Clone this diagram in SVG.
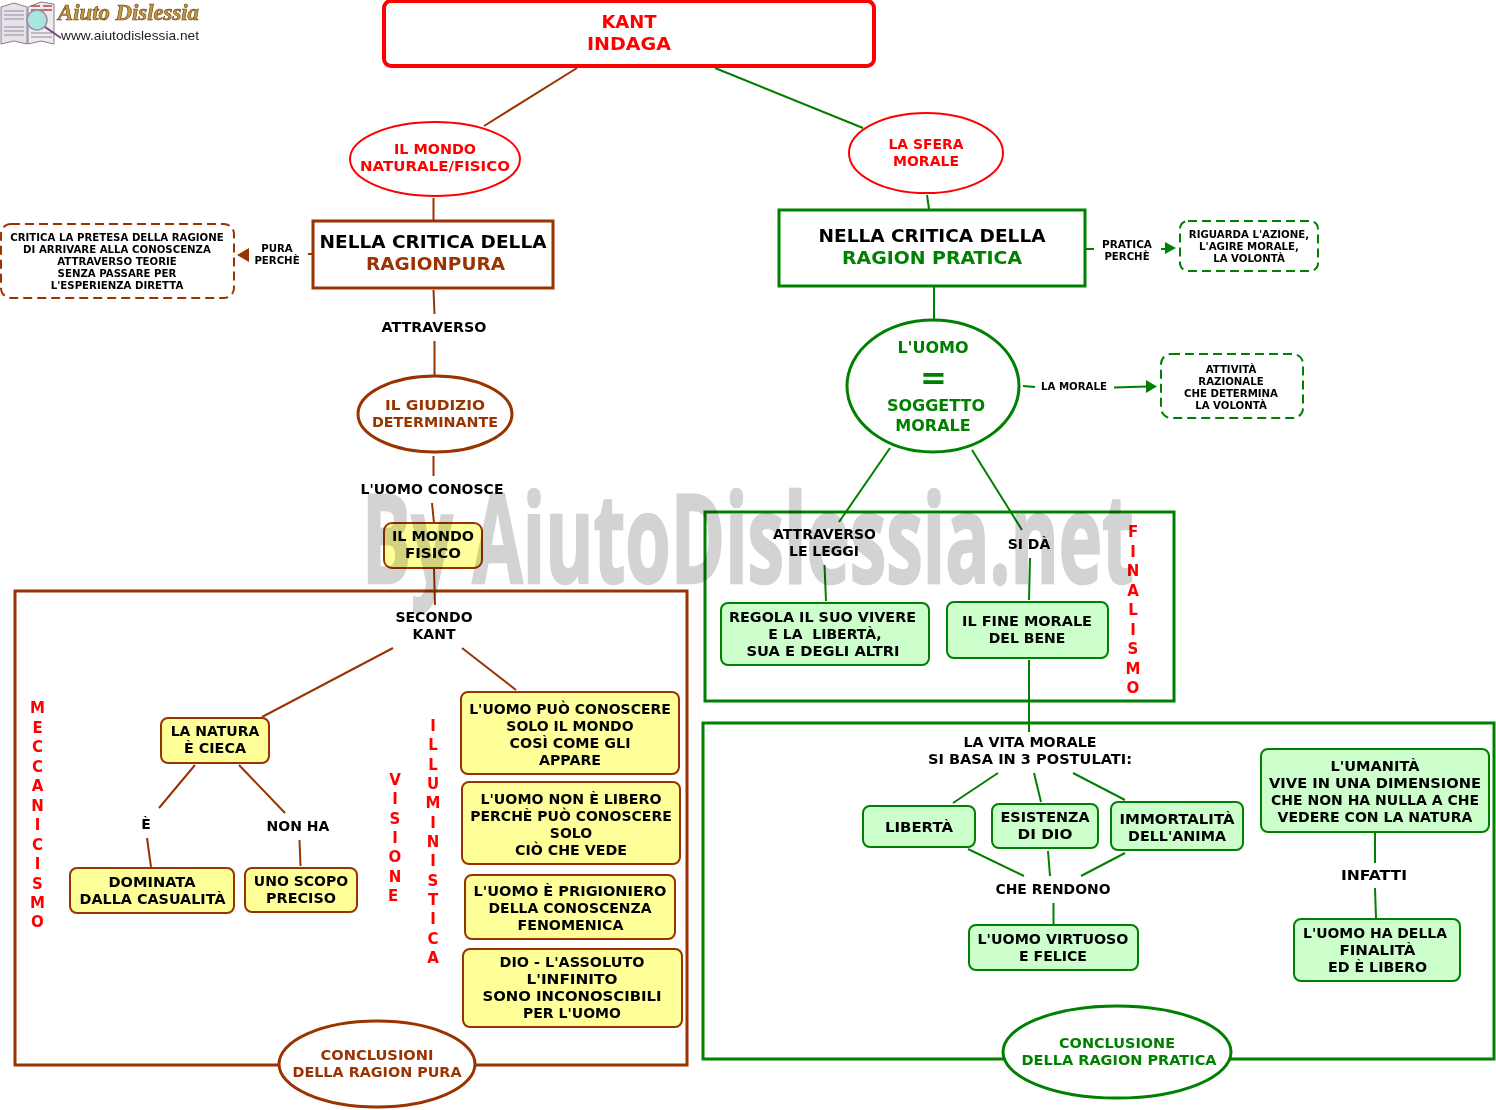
<svg xmlns="http://www.w3.org/2000/svg" width="1496" height="1110" viewBox="0 0 1496 1110">
<style>
text{font-family:"DejaVu Sans",Verdana,sans-serif;font-weight:bold;text-anchor:middle;fill:#000}
.t15{font-size:15px}.t14{font-size:14px}.t11{font-size:10.2px}.t20{font-size:18.5px}.t16{font-size:16px}.t18{font-size:18px}
.r{fill:#f00}.b{fill:#993300}.g{fill:#008000}
.lb{stroke:#993300;stroke-width:2;fill:none}
.lg{stroke:#008000;stroke-width:2;fill:none}
.wb{fill:#fff;stroke:#993300;stroke-width:3}
.wg{fill:#fff;stroke:#008000;stroke-width:3}
.y{fill:#ffff99;stroke:#993300;stroke-width:2}
.lgn{fill:#ccffcc;stroke:#008000;stroke-width:2}
.db{fill:#fff;stroke:#993300;stroke-width:2;stroke-dasharray:9 5}
.dg{fill:#fff;stroke:#008000;stroke-width:2;stroke-dasharray:9 5}
</style>
<rect width="1496" height="1110" fill="#fff"/>
<g id="logo">
<path d="M1 7 L14 3 L27 7 L27 44 L14 41 L1 44Z" fill="#e8e2ea" stroke="#8a7a90"/>
<path d="M28 7 L41 2 L54 4 L54 44 L41 41 L28 44Z" fill="#f0eaf0" stroke="#8a7a90"/>
<path d="M4 11H24M4 15H24M4 19H24M4 27H24M4 31H24M4 35H24" stroke="#b0a8b4" stroke-width="1.5"/>
<path d="M31 6H40M43 6H52M31 10H52" stroke="#c04040" stroke-width="1.5"/>
<path d="M31 33H52M31 37H52" stroke="#b0a8b4" stroke-width="1.5"/>
<circle cx="37" cy="20" r="10" fill="#a8e4e0" stroke="#9a90a0" stroke-width="1.5"/>
<path d="M45 27 L61 38" stroke="#6a4a80" stroke-width="2"/>
<text x="128.5" y="20" textLength="141" lengthAdjust="spacingAndGlyphs" style="font-family:'Liberation Serif',serif;font-size:23px;font-style:italic;fill:#c8963c;stroke:#5a3c10;stroke-width:.6">Aiuto Dislessia</text>
<text x="130" y="40" textLength="138" lengthAdjust="spacingAndGlyphs" style="font-family:'Liberation Sans',sans-serif;font-size:13.5px;font-weight:normal;fill:#222">www.aiutodislessia.net</text>
</g>
<g id="frames">
<rect x="15" y="591" width="672" height="474" fill="none" stroke="#993300" stroke-width="3"/>
<rect x="705" y="512" width="469" height="189" fill="none" stroke="#008000" stroke-width="3"/>
<rect x="703" y="723" width="791" height="336" fill="none" stroke="#008000" stroke-width="3"/>
</g>
<g id="connectors">
<path class="lb" d="M577 68L484 126M433.500 198V220M433.500 290L434.500 314M434.500 341V375M433.500 456V476M432 503L434 523M434 568L435 605M393 648L262 717M462 648L516 690M195 765L159 808M239 765L285 813M147 838L151 867M299.500 840L300.500 866M308 254H312"/>
<path class="lg" d="M715 68L863 128M927 195L929 209M934 286V319M1086 249H1094M1161 249H1166M1023 386L1035 387M1114 387.500L1147 386.500M890 448L839 522M972 450L1022 530M824.500 565L826 601M1030 558L1029 600M1029 660V732M953 803L998 773M1034 773L1041 802M1073 773L1125 800M968 849L1024 876M1048 851L1050 876M1125 853L1081 876M1053.500 903V925M1375 833V863M1375 888L1376 918"/>
<path fill="#993300" d="M237 255L249 248V262Z"/>
<path fill="#008000" d="M1176 248L1165 242V254ZM1157 386.500L1146 380V393Z"/>
</g>
<g id="kant"><rect x="384" y="1" width="490" height="65" rx="7" fill="#fff" stroke="#f00" stroke-width="4"/><text class="t18 r" x="629" y="28">KANT</text><text class="t18 r" x="629" y="50" textLength="84" lengthAdjust="spacingAndGlyphs">INDAGA</text></g>
<g id="mondo-naturale"><ellipse cx="435" cy="159" rx="85" ry="37" fill="#fff" stroke="#f00" stroke-width="2"/><text class="t14 r" x="435" y="154" textLength="82" lengthAdjust="spacingAndGlyphs">IL MONDO</text><text class="t14 r" x="435" y="171" textLength="150" lengthAdjust="spacingAndGlyphs">NATURALE/FISICO</text></g>
<g id="sfera-morale"><ellipse cx="926" cy="153" rx="77" ry="40" fill="#fff" stroke="#f00" stroke-width="2"/><text class="t14 r" x="926" y="149" textLength="75" lengthAdjust="spacingAndGlyphs">LA SFERA</text><text class="t14 r" x="926" y="166" textLength="66" lengthAdjust="spacingAndGlyphs">MORALE</text></g>
<g id="critica-pura"><rect x="313" y="221" width="240" height="67" class="wb"/><text class="t20" x="433" y="248" textLength="227" lengthAdjust="spacingAndGlyphs">NELLA CRITICA DELLA</text><text class="t20 b" x="435.500" y="270" textLength="139" lengthAdjust="spacingAndGlyphs">RAGIONPURA</text></g>
<g id="critica-pratica"><rect x="779" y="210" width="306" height="76" class="wg"/><text class="t20" x="932" y="242" textLength="227" lengthAdjust="spacingAndGlyphs">NELLA CRITICA DELLA</text><text class="t20 g" x="932" y="264" textLength="180" lengthAdjust="spacingAndGlyphs">RAGION PRATICA</text></g>
<g id="critica-pretesa"><rect x="1" y="224" width="233" height="74" rx="10" class="db"/><text class="t11" x="117" y="241">CRITICA LA PRETESA DELLA RAGIONE</text><text class="t11" x="117" y="253">DI ARRIVARE ALLA CONOSCENZA</text><text class="t11" x="117" y="265">ATTRAVERSO TEORIE</text><text class="t11" x="117" y="277">SENZA PASSARE PER</text><text class="t11" x="117" y="289">L'ESPERIENZA DIRETTA</text></g>
<g id="l-pura"><text class="t11" x="277" y="252">PURA</text><text class="t11" x="277" y="264">PERCHÈ</text></g>
<g id="l-pratica"><text class="t11" x="1127" y="248" textLength="50" lengthAdjust="spacingAndGlyphs">PRATICA</text><text class="t11" x="1127" y="260">PERCHÈ</text></g>
<g id="riguarda"><rect x="1180" y="221" width="138" height="50" rx="8" class="dg"/><text class="t11" x="1249" y="238">RIGUARDA L'AZIONE,</text><text class="t11" x="1249" y="250">L'AGIRE MORALE,</text><text class="t11" x="1249" y="262">LA VOLONTÀ</text></g>
<g id="l-attraverso"><text class="t14" x="434" y="332" textLength="105" lengthAdjust="spacingAndGlyphs">ATTRAVERSO</text></g>
<g id="giudizio"><ellipse cx="435" cy="414" rx="77" ry="38" fill="#fff" stroke="#993300" stroke-width="3"/><text class="t14 b" x="435" y="410" textLength="100" lengthAdjust="spacingAndGlyphs">IL GIUDIZIO</text><text class="t14 b" x="435" y="427" textLength="126" lengthAdjust="spacingAndGlyphs">DETERMINANTE</text></g>
<g id="uomo-soggetto"><ellipse cx="933" cy="386" rx="86" ry="66" fill="#fff" stroke="#008000" stroke-width="3"/><text class="t16 g" x="933" y="353">L'UOMO</text><text class="g" style="font-size:32px" x="933.500" y="389">=</text><text class="t16 g" x="936" y="411">SOGGETTO</text><text class="t16 g" x="933" y="431">MORALE</text></g>
<g id="l-morale"><text class="t11" x="1074" y="390">LA MORALE</text></g>
<g id="attivita"><rect x="1161" y="354" width="142" height="64" rx="10" class="dg"/><text class="t11" x="1231" y="373">ATTIVITÀ</text><text class="t11" x="1231" y="385">RAZIONALE</text><text class="t11" x="1231" y="397">CHE DETERMINA</text><text class="t11" x="1231" y="409">LA VOLONTÀ</text></g>
<g id="l-conosce"><text class="t14" x="432" y="494">L'UOMO CONOSCE</text></g>
<g id="mondo-fisico"><rect x="384" y="523" width="98" height="45" rx="8" class="y"/><text class="t14" x="433" y="541" textLength="82" lengthAdjust="spacingAndGlyphs">IL MONDO</text><text class="t14" x="433" y="558" textLength="56" lengthAdjust="spacingAndGlyphs">FISICO</text></g>
<g id="l-secondo"><text class="t14" x="434" y="622">SECONDO</text><text class="t14" x="434" y="639">KANT</text></g>
<g id="natura"><rect x="161" y="718" width="108" height="45" rx="7" class="y"/><text class="t14" x="215" y="736">LA NATURA</text><text class="t14" x="215" y="753" textLength="62" lengthAdjust="spacingAndGlyphs">È CIECA</text></g>
<g id="l-e"><text class="t14" x="146" y="829">È</text></g>
<g id="l-nonha"><text class="t14" x="298" y="831">NON HA</text></g>
<g id="dominata"><rect x="70" y="868" width="164" height="45" rx="7" class="y"/><text class="t14" x="152" y="887" textLength="87" lengthAdjust="spacingAndGlyphs">DOMINATA</text><text class="t14" x="152.500" y="904" textLength="146" lengthAdjust="spacingAndGlyphs">DALLA CASUALITÀ</text></g>
<g id="scopo"><rect x="245" y="868" width="112" height="44" rx="7" class="y"/><text class="t14" x="301" y="886">UNO SCOPO</text><text class="t14" x="301" y="903" textLength="70" lengthAdjust="spacingAndGlyphs">PRECISO</text></g>
<g id="conosce"><rect x="461" y="692" width="218" height="82" rx="7" class="y"/><text class="t14" x="570" y="714">L'UOMO PUÒ CONOSCERE</text><text class="t14" x="570" y="731">SOLO IL MONDO</text><text class="t14" x="570" y="748" textLength="121" lengthAdjust="spacingAndGlyphs">COSÌ COME GLI</text><text class="t14" x="570" y="765" textLength="62" lengthAdjust="spacingAndGlyphs">APPARE</text></g>
<g id="libero"><rect x="462" y="782" width="218" height="82" rx="7" class="y"/><text class="t14" x="571" y="804" textLength="181" lengthAdjust="spacingAndGlyphs">L'UOMO NON È LIBERO</text><text class="t14" x="571" y="821">PERCHÈ PUÒ CONOSCERE</text><text class="t14" x="571" y="838">SOLO</text><text class="t14" x="571" y="855" textLength="112" lengthAdjust="spacingAndGlyphs">CIÒ CHE VEDE</text></g>
<g id="prigioniero"><rect x="465" y="875" width="210" height="64" rx="7" class="y"/><text class="t14" x="570" y="896" textLength="193" lengthAdjust="spacingAndGlyphs">L'UOMO È PRIGIONIERO</text><text class="t14" x="570" y="913" textLength="163" lengthAdjust="spacingAndGlyphs">DELLA CONOSCENZA</text><text class="t14" x="570.500" y="930" textLength="106" lengthAdjust="spacingAndGlyphs">FENOMENICA</text></g>
<g id="dio"><rect x="463" y="949" width="219" height="78" rx="7" class="y"/><text class="t14" x="572" y="967" textLength="145" lengthAdjust="spacingAndGlyphs">DIO - L'ASSOLUTO</text><text class="t14" x="572" y="984" textLength="91" lengthAdjust="spacingAndGlyphs">L'INFINITO</text><text class="t14" x="572" y="1001" textLength="179" lengthAdjust="spacingAndGlyphs">SONO INCONOSCIBILI</text><text class="t14" x="572" y="1018" textLength="98" lengthAdjust="spacingAndGlyphs">PER L'UOMO</text></g>
<g id="concl-pura"><ellipse cx="377" cy="1064" rx="98" ry="43" fill="#fff" stroke="#993300" stroke-width="3"/><text class="t14 b" x="377" y="1060" textLength="113" lengthAdjust="spacingAndGlyphs">CONCLUSIONI</text><text class="t14 b" x="377" y="1077" textLength="169" lengthAdjust="spacingAndGlyphs">DELLA RAGION PURA</text></g>
<g id="v-mecc"><text class="r t15" x="37.500" y="713">M</text><text class="r t15" x="37.500" y="733">E</text><text class="r t15" x="37.500" y="752">C</text><text class="r t15" x="37.500" y="772">C</text><text class="r t15" x="37.500" y="791">A</text><text class="r t15" x="37.500" y="811">N</text><text class="r t15" x="37.500" y="830">I</text><text class="r t15" x="37.500" y="850">C</text><text class="r t15" x="37.500" y="869">I</text><text class="r t15" x="37.500" y="889">S</text><text class="r t15" x="37.500" y="908">M</text><text class="r t15" x="37.500" y="927">O</text></g>
<g id="v-visione"><text class="r t15" x="395" y="785">V</text><text class="r t15" x="395" y="804">I</text><text class="r t15" x="395" y="824">S</text><text class="r t15" x="395" y="843">I</text><text class="r t15" x="395" y="862">O</text><text class="r t15" x="395" y="882">N</text><text class="r t15" x="393" y="901">E</text></g>
<g id="v-illum"><text class="r t15" x="433" y="731">I</text><text class="r t15" x="433" y="750">L</text><text class="r t15" x="433" y="770">L</text><text class="r t15" x="433" y="789">U</text><text class="r t15" x="433" y="808">M</text><text class="r t15" x="433" y="828">I</text><text class="r t15" x="433" y="847">N</text><text class="r t15" x="433" y="866">I</text><text class="r t15" x="433" y="886">S</text><text class="r t15" x="433" y="905">T</text><text class="r t15" x="433" y="924">I</text><text class="r t15" x="433" y="944">C</text><text class="r t15" x="433" y="963">A</text></g>
<g id="l-leggi"><text class="t14" x="824.500" y="539">ATTRAVERSO</text><text class="t14" x="824" y="556">LE LEGGI</text></g>
<g id="l-sida"><text class="t14" x="1029" y="549">SI DÀ</text></g>
<g id="v-fin"><text class="r t15" x="1133" y="537">F</text><text class="r t15" x="1133" y="557">I</text><text class="r t15" x="1133" y="576">N</text><text class="r t15" x="1133" y="596">A</text><text class="r t15" x="1133" y="615">L</text><text class="r t15" x="1133" y="635">I</text><text class="r t15" x="1133" y="654">S</text><text class="r t15" x="1133" y="674">M</text><text class="r t15" x="1133" y="693">O</text></g>
<g id="regola"><rect x="721" y="603" width="208" height="62" rx="7" class="lgn"/><text class="t14" x="822.500" y="622" textLength="187" lengthAdjust="spacingAndGlyphs">REGOLA IL SUO VIVERE</text><text class="t14" x="825" y="639" xml:space="preserve">E LA  LIBERTÀ,</text><text class="t14" x="823" y="656" textLength="153" lengthAdjust="spacingAndGlyphs">SUA E DEGLI ALTRI</text></g>
<g id="fine"><rect x="947" y="602" width="161" height="56" rx="7" class="lgn"/><text class="t14" x="1027" y="626" textLength="130" lengthAdjust="spacingAndGlyphs">IL FINE MORALE</text><text class="t14" x="1027" y="643">DEL BENE</text></g>
<g id="l-vita"><text class="t14" x="1030" y="747" textLength="133" lengthAdjust="spacingAndGlyphs">LA VITA MORALE</text><text class="t14" x="1030" y="764" textLength="204" lengthAdjust="spacingAndGlyphs">SI BASA IN 3 POSTULATI:</text></g>
<g id="liberta"><rect x="863" y="806" width="112" height="41" rx="7" class="lgn"/><text class="t14" x="919" y="832" textLength="68" lengthAdjust="spacingAndGlyphs">LIBERTÀ</text></g>
<g id="esistenza"><rect x="992" y="804" width="106" height="44" rx="7" class="lgn"/><text class="t14" x="1045" y="822" textLength="89" lengthAdjust="spacingAndGlyphs">ESISTENZA</text><text class="t14" x="1045" y="839" textLength="55" lengthAdjust="spacingAndGlyphs">DI DIO</text></g>
<g id="immortalita"><rect x="1111" y="802" width="132" height="48" rx="7" class="lgn"/><text class="t14" x="1177" y="824" textLength="115" lengthAdjust="spacingAndGlyphs">IMMORTALITÀ</text><text class="t14" x="1177" y="841" textLength="98" lengthAdjust="spacingAndGlyphs">DELL'ANIMA</text></g>
<g id="umanita"><rect x="1261" y="749" width="228" height="83" rx="7" class="lgn"/><text class="t14" x="1375" y="771" textLength="89" lengthAdjust="spacingAndGlyphs">L'UMANITÀ</text><text class="t14" x="1375" y="788" textLength="212" lengthAdjust="spacingAndGlyphs">VIVE IN UNA DIMENSIONE</text><text class="t14" x="1375" y="805" textLength="208" lengthAdjust="spacingAndGlyphs">CHE NON HA NULLA A CHE</text><text class="t14" x="1375" y="822" textLength="195" lengthAdjust="spacingAndGlyphs">VEDERE CON LA NATURA</text></g>
<g id="l-rendono"><text class="t14" x="1053" y="894" textLength="115" lengthAdjust="spacingAndGlyphs">CHE RENDONO</text></g>
<g id="l-infatti"><text class="t14" x="1374" y="880" textLength="66" lengthAdjust="spacingAndGlyphs">INFATTI</text></g>
<g id="virtuoso"><rect x="969" y="925" width="169" height="45" rx="7" class="lgn"/><text class="t14" x="1053" y="944" textLength="151" lengthAdjust="spacingAndGlyphs">L'UOMO VIRTUOSO</text><text class="t14" x="1053" y="961" textLength="68" lengthAdjust="spacingAndGlyphs">E FELICE</text></g>
<g id="finalita"><rect x="1294" y="919" width="166" height="62" rx="7" class="lgn"/><text class="t14" x="1375" y="938" textLength="144" lengthAdjust="spacingAndGlyphs">L'UOMO HA DELLA</text><text class="t14" x="1377.500" y="955" textLength="76" lengthAdjust="spacingAndGlyphs">FINALITÀ</text><text class="t14" x="1377.500" y="972" textLength="99" lengthAdjust="spacingAndGlyphs">ED È LIBERO</text></g>
<g id="concl-pratica"><ellipse cx="1117" cy="1052" rx="114" ry="46" fill="#fff" stroke="#008000" stroke-width="3"/><text class="t14 g" x="1117" y="1048" textLength="116" lengthAdjust="spacingAndGlyphs">CONCLUSIONE</text><text class="t14 g" x="1119" y="1065" textLength="195" lengthAdjust="spacingAndGlyphs">DELLA RAGION PRATICA</text></g>
<text id="watermark" x="362" y="583" textLength="772" lengthAdjust="spacingAndGlyphs" style="font-family:'Open Sans','DejaVu Sans',sans-serif;font-size:123px;font-weight:bold;text-anchor:start;fill:#d3d3d3;stroke:#d3d3d3;stroke-width:2.5;mix-blend-mode:multiply">By AiutoDislessia.net</text>
</svg>
